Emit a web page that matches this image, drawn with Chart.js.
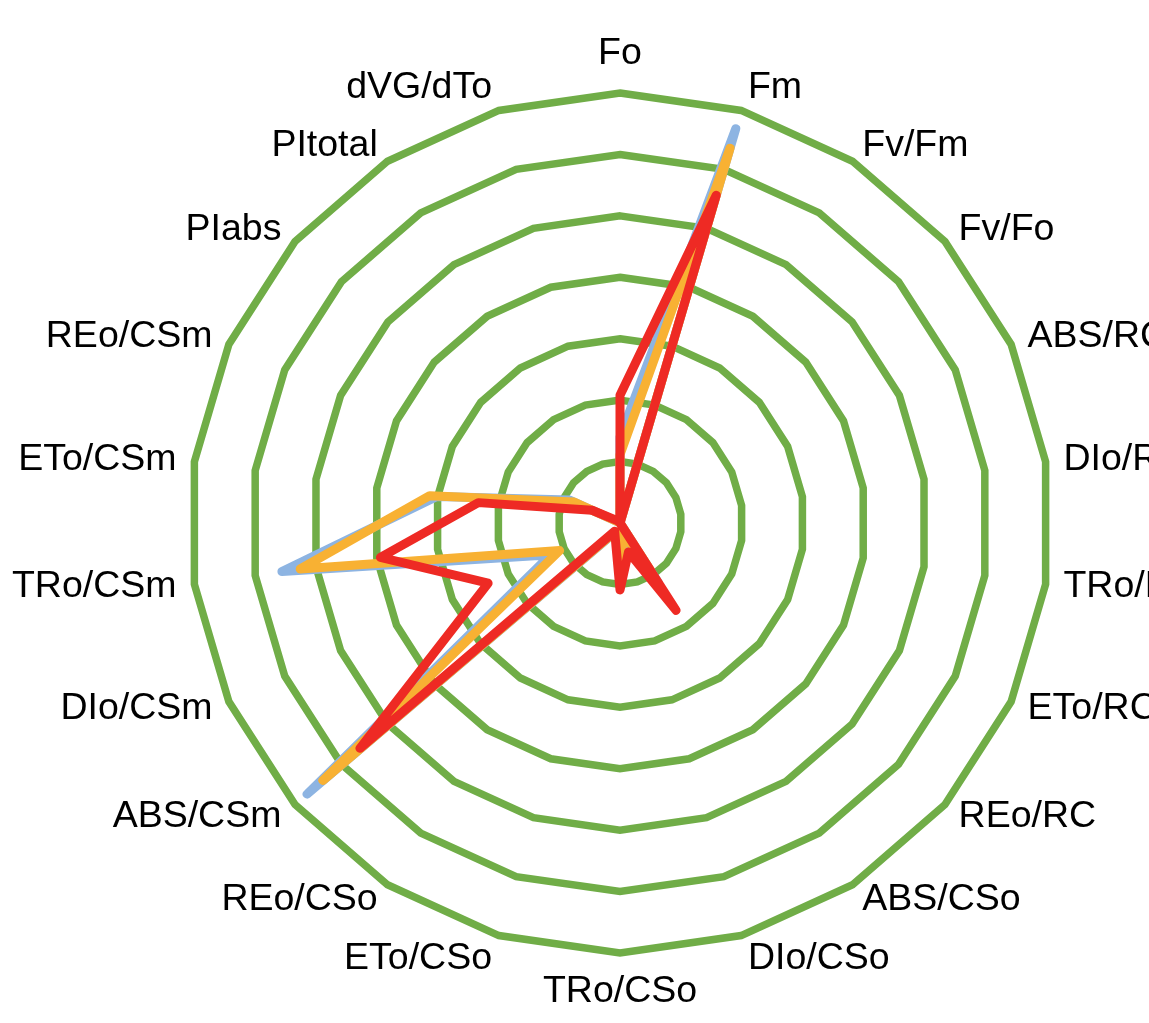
<!DOCTYPE html>
<html>
<head>
<meta charset="utf-8">
<title>JIP-test radar</title>
<script src="https://cdn.jsdelivr.net/npm/chart.js@4/dist/chart.umd.min.js"></script>
<style>
  html, body { margin: 0; padding: 0; background: #ffffff; overflow: hidden; }
  #wrap { width: 1149px; height: 1023px; }
  canvas { display: block; }
</style>
</head>
<body>
<div id="wrap"><canvas id="radar" width="1149" height="1023"></canvas></div>
<script>
// Parameter names around the radar, clockwise from the top
const categories = ['Fo', 'Fm', 'Fv/Fm', 'Fv/Fo', 'ABS/RC', 'DIo/RC', 'TRo/RC', 'ETo/RC', 'REo/RC',
  'ABS/CSo', 'DIo/CSo', 'TRo/CSo', 'ETo/CSo', 'REo/CSo', 'ABS/CSm', 'DIo/CSm', 'TRo/CSm',
  'ETo/CSm', 'REo/CSm', 'PIabs', 'PItotal', 'dVG/dTo'];

// Radial axis: 0 .. 3500 with a ring every 500
const axisMin = 0;
const axisMax = 3500;
const axisStep = 500;

// Series values (same order as categories)
const blueValues   = [700, 3345, 0.82, 4.6, 2.4, 0.5, 1.9, 1.1, 0.4, 580, 220, 360, 100, 110, 3370, 620, 2780, 1510, 450, 3.1, 2.2, 1.4];
const yellowValues = [555, 3180, 0.80, 4.2, 2.6, 0.5, 2.1, 1.0, 0.35, 460, 100, 360, 90, 100, 3200, 540, 2630, 1565, 410, 2.8, 1.9, 1.3];
const redValues    = [1040, 2780, 0.62, 1.7, 4.2, 1.6, 2.6, 1.0, 0.3, 845, 245, 545, 135, 80, 2800, 1180, 1970, 1165, 250, 30, 2.0, 1.2];

// Geometry of the plot
const CENTER_X = 620;
const CENTER_Y = 523;
const RADIUS = 430;

// Gap between the outer ring and each label; labels straight up/down sit further out
function labelPadding(i) {
  const c = Math.abs(Math.cos(2 * Math.PI * i / categories.length));
  return 18 + 21 * Math.pow(c, 30);
}

function series(label, values, color, order) {
  return {
    label: label,
    data: values,
    borderColor: color,
    backgroundColor: color,
    borderWidth: 9,
    borderJoinStyle: 'round',
    borderCapStyle: 'round',
    pointRadius: 0,
    pointHoverRadius: 0,
    fill: false,
    tension: 0,
    order: order
  };
}

new Chart(document.getElementById('radar'), {
  type: 'radar',
  data: {
    labels: categories,
    datasets: [
      series('Series 1', blueValues, '#8DB4E2', 3),
      series('Series 2', yellowValues, '#F8B133', 2),
      series('Series 3', redValues, '#EE2A24', 1)
    ]
  },
  options: {
    responsive: false,
    maintainAspectRatio: false,
    devicePixelRatio: 1,
    animation: false,
    layout: { padding: 0 },
    plugins: {
      legend: { display: false },
      tooltip: { enabled: false }
    },
    scales: {
      r: {
        min: axisMin,
        max: axisMax,
        beginAtZero: true,
        ticks: { display: false, stepSize: axisStep },
        grid: { color: '#70AD47', lineWidth: 7.5, circular: false },
        angleLines: { display: false },
        pointLabels: {
          display: true,
          color: '#000000',
          font: { family: '"Liberation Sans", Arial, Helvetica, sans-serif', size: 37.5, lineHeight: 0.001 },
          padding: (ctx) => labelPadding(ctx.index)
        },
        // Fix the centre and radius, then move the labels along with them
        afterFit: (scale) => {
          scale.xCenter = CENTER_X;
          scale.yCenter = CENTER_Y;
          scale.drawingArea = RADIUS;
          const items = scale._pointLabelItems || [];
          items.forEach((item, i) => {
            const p = scale.getPointPosition(i, RADIUS + labelPadding(i));
            const dx = p.x - item.x;
            const dy = p.y - item.y;
            item.x += dx; item.left += dx; item.right += dx;
            item.y += dy; item.top += dy; item.bottom += dy;
          });
        }
      }
    }
  }
});
</script>
</body>
</html>
